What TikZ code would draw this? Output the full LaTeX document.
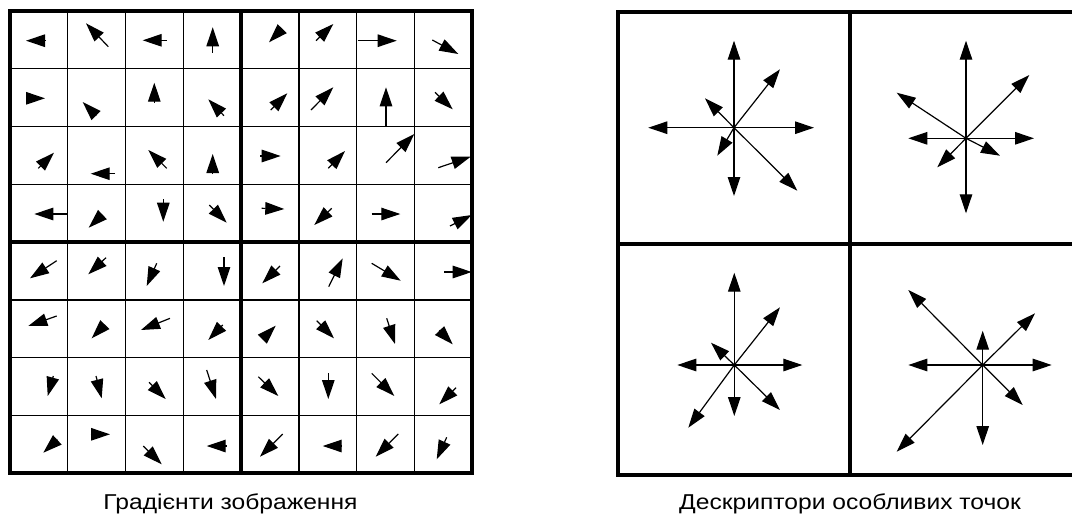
\documentclass[tikz,border=0pt]{standalone}
\usepackage{fontspec}
\setmainfont{Liberation Sans}
\newfontfamily\capfont[FakeStretch=1.145]{Liberation Sans}
\usetikzlibrary{arrows.meta}
\begin{document}
\begin{tikzpicture}[x=1pt,y=-1pt,
  grad/.style={line width=1.2pt,-{Triangle[length=19pt,width=12.5pt]}},
  thingrid/.style={line width=1.3pt},
  thickgrid/.style={line width=4pt},
  caption/.style={font=\capfont\fontsize{21.5}{24}\selectfont,anchor=base,inner sep=0pt}]
\useasboundingbox (0,0) rectangle (1072,515);
\clip (0,0) rectangle (1072,515);

% ---- image gradients: 8x8 sample grid ----
\foreach \i in {1,2,3,5,6,7} {
  \draw[thingrid] ({10+57.8*\i},11) -- ({10+57.8*\i},473.4);
  \draw[thingrid] (10,{11+57.8*\i}) -- (472.4,{11+57.8*\i});
}
\draw[thickgrid] (10,11) rectangle (472.4,473.4);
\draw[thickgrid] (241.2,11) -- (241.2,473.4);
\draw[thickgrid] (10,242.2) -- (472.4,242.2);

% gradient vectors: tail x/y, tip x/y
\foreach \tx/\ty/\px/\py in {
  46/40.7/26/40.7, 108.3/46.7/86/23.3, 166.7/40.3/142.7/40.3, 212.7/52.7/212.7/27.3,
  26/98.3/45/98.3, 96.2/115.7/82.7/102, 154.3/102.7/154.3/82.7, 224/115.7/208.3/99.3,
  38.3/168.3/54/152.7, 115/173.7/90.7/173.7, 166.7/168.3/148.3/150, 212.7/174/212.7/154,
  67.7/214/34.3/214, 102.2/214.8/88.7/227.7, 163.3/199.3/163.3/221.7, 209.3/205/226.7/222.7,
  281.7/29.2/269/42.3, 316/40.7/333.3/24, 357.7/40.7/396.7/40.7, 432.3/40/458.3/54,
  270.7/110/287.3/93.3, 311/110/333.3/87.3, 386/126.7/386/87.3, 435/92.3/452.7/109.3,
  260/156/280.7/156, 328.3/168.3/345/151, 386/162.7/414.3/134, 438.3/167.7/470.7/156.7,
  261.7/208.3/284.3/209, 331.7/208.3/314.3/225, 371.7/214/400.3/214, 450/226/471.7/215,
  56.7/260.7/30/278.3, 106/257.7/88.3/274.3, 156.7/263.3/146.7/286, 224/257.3/224/286,
  56.7/316/28.3/326, 104.7/324.8/91.7/338.3, 170/318.3/141/330, 222.8/325/208.3/340,
  53.3/376/47.7/396, 96/376/101.7/398.3, 149/382.3/165.7/399, 206.7/370/216/399,
  57.5/439.7/43.3/452.7, 90.7/434.3/110/434.3, 143.3/446/161.7/464.3, 226.7/446/206.7/446,
  280/266/262.3/283.3, 328.7/286.7/342.7/258.3, 371.7/263.3/400.7/280.7, 444/272/471.7/272,
  262.7/338.8/275.7/325.7, 316.7/320.7/334/338.3, 386.7/318.3/395/344, 439.3/330.3/452.7/344.3,
  258.3/376.7/278.3/396, 328.3/373.3/328.3/399, 371.7/373.3/394.3/396, 456/387.7/439.3/404.3,
  282.7/434/260/456.7, 341/446/322.7/446, 398.3/434/375.7/456.7, 446.7/437.3/436.7/459.3}
  \draw[grad] (\tx,\ty) -- (\px,\py);

% ---- keypoint descriptor: 2x2 orientation histograms ----
\draw[thickgrid] (618,12) rectangle (1082,475);
\draw[thickgrid] (850,12) -- (850,475);
\draw[thickgrid] (618,243.5) -- (1082,243.5);

\coordinate (h1) at (734,127.7);
\coordinate (h2) at (966,138.3);
\coordinate (h3) at (734.3,365);
\coordinate (h4) at (982.7,365);

\foreach \px/\py in {734/40.7, 780/69.3, 814/127.7, 797.3/190.7, 734/196, 717.3/155.7, 648.3/127.7, 705/98.3}
  \draw[grad] (h1) -- (\px,\py);
\foreach \px/\py in {966/40.7, 1029.3/75, 1034/138.3, 1000/155.7, 966/213.3, 937.3/167.3, 908.3/138.3, 896.7/92.7}
  \draw[grad] (h2) -- (\px,\py);
\foreach \px/\py in {734.3/272.7, 780/307.3, 802.3/365, 780/410, 734.3/416, 688.3/427.7, 677.3/365, 711/342.7}
  \draw[grad] (h3) -- (\px,\py);
\foreach \px/\py in {982.7/330.7, 1035/313.3, 1051.7/365, 1022.7/405, 982.7/445, 896.7/451.7, 908.3/365, 908.3/290}
  \draw[grad] (h4) -- (\px,\py);

% ---- captions ----
\node[caption] (lcap) at (230.5,509) {Градієнти зображення};
\node[caption] (rcap) at (850,509) {Дескриптори особливих точок};
\end{tikzpicture}
\end{document}
